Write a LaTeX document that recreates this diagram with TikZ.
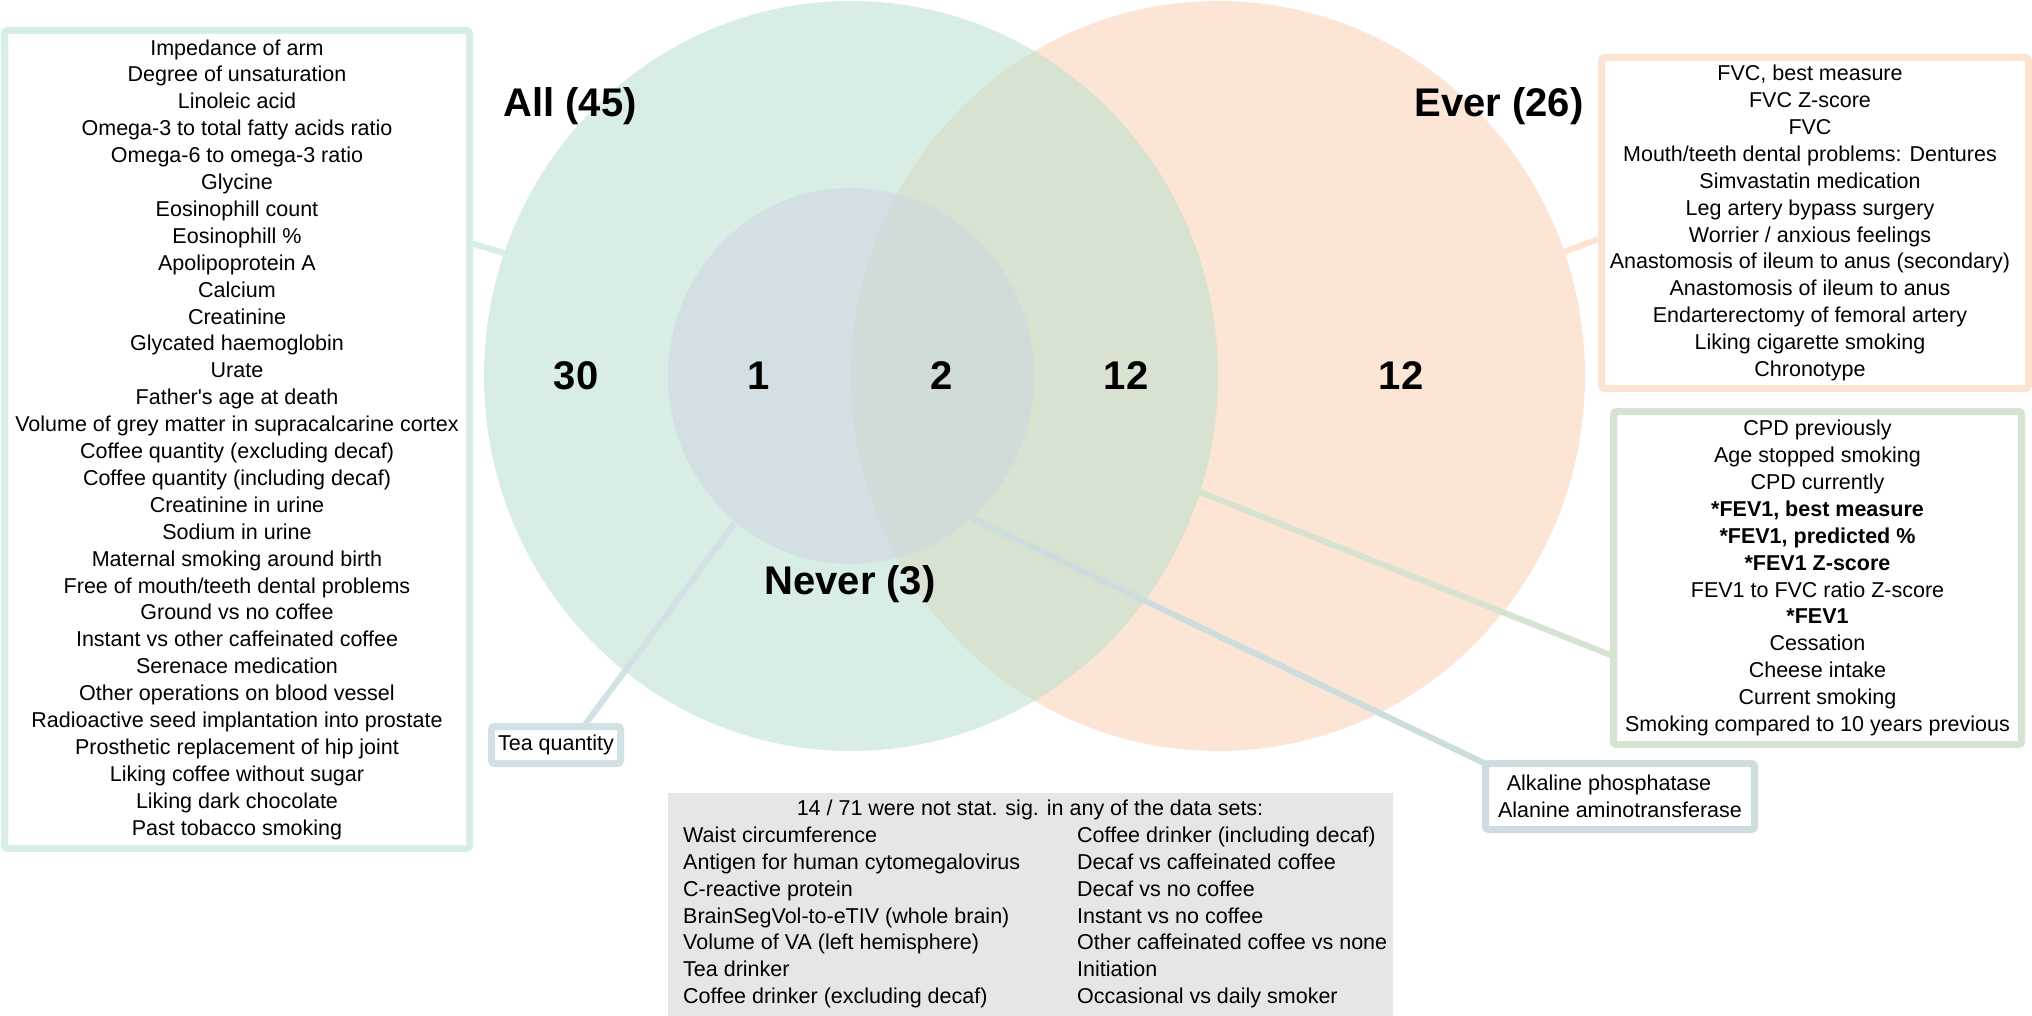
\documentclass[tikz,border=0pt]{standalone}
\usepackage{fontspec}
\setmainfont{Liberation Sans}
\definecolor{cG}{HTML}{D8EEE4}
\definecolor{cO}{HTML}{FDE5D5}
\definecolor{cGO}{HTML}{D8E2D0}
\definecolor{cN}{HTML}{D2E0E4}
\definecolor{cNO}{HTML}{CFDCDA}
\definecolor{bL}{HTML}{D6EEE4}
\definecolor{bO}{HTML}{FDE3D1}
\definecolor{bR}{HTML}{D6E3D0}
\definecolor{bA}{HTML}{CDDCDD}
\definecolor{bT}{HTML}{D2E1E6}
\definecolor{cGrey}{HTML}{E6E6E6}
\begin{document}
\begin{tikzpicture}[x=1pt,y=-1pt,
  boxtext/.style={font=\fontsize{21.5}{26.9}\selectfont, align=center},
  listbox/.style={draw, line width=7pt, rounded corners=3pt, fill=white, inner sep=0pt},
  conn/.style={line width=6pt},
  biglabel/.style={font=\fontsize{40}{48}\selectfont\bfseries, inner sep=0pt}]
\useasboundingbox (0,0) rectangle (2032,1016);
\fill[white] (0,0) rectangle (2032,1016);
% Venn regions
\fill[cG] (851,376) ellipse [x radius=367pt, y radius=375pt];
\fill[cO] (1218,376) ellipse [x radius=367pt, y radius=375pt];
\begin{scope}
  \clip (1218,376) ellipse [x radius=367pt, y radius=375pt];
  \fill[cGO] (851,376) ellipse [x radius=367pt, y radius=375pt];
\end{scope}
\fill[cN] (851,376) ellipse [x radius=183pt, y radius=188pt];
\begin{scope}
  \clip (1218,376) ellipse [x radius=367pt, y radius=375pt];
  \fill[cNO] (851,376) ellipse [x radius=183pt, y radius=188pt];
\end{scope}
% connector end points
\coordinate (eL) at (504,253);
\coordinate (bLp) at (470,243);
\coordinate (eO) at (1564,252);
\coordinate (bOp) at (1601,238);
\coordinate (eR) at (1200,492);
\coordinate (bRp) at (1613,656);
\coordinate (eA) at (972,518);
\coordinate (bAp) at (1486,764);
\coordinate (eT) at (735,523);
\coordinate (bTp) at (584,726);
\draw[conn, bL] (eL) -- (bLp);
\draw[conn, bO] (eO) -- (bOp);
\draw[conn, bR] (eR) -- (bRp);
\draw[conn, bA] (eA) -- (bAp);
\draw[conn, bT] (eT) -- (bTp);
% labels
\node[biglabel] (all) at (570,106) {All (45)};
\node[biglabel] (ever) at (1499,106) {Ever (26)};
\node[biglabel] (never) at (850,584) {Never (3)};
\node[biglabel] (n30) at (576,376) {30};
\node[biglabel] (n1) at (759,376) {1};
\node[biglabel] (n2) at (942,376) {2};
\node[biglabel] (n12a) at (1126,376) {12};
\node[biglabel] (n12b) at (1401,376) {12};
% left box
\node[listbox, draw=bL, minimum width=465pt, minimum height=818pt, boxtext] (leftbox) at (237,439.5) {Impedance of arm\\ Degree of unsaturation\\ Linoleic acid\\ Omega-3 to total fatty acids ratio\\ Omega-6 to omega-3 ratio\\ Glycine\\ Eosinophill count\\ Eosinophill \%\\ Apolipoprotein A\\ Calcium\\ Creatinine\\ Glycated haemoglobin\\ Urate\\ Father\textquotesingle s age at death\\ Volume of grey matter in supracalcarine cortex\\ Coffee quantity (excluding decaf)\\ Coffee quantity (including decaf)\\ Creatinine in urine\\ Sodium in urine\\ Maternal smoking around birth\\ Free of mouth/teeth dental problems\\ Ground vs no coffee\\ Instant vs other caffeinated coffee\\ Serenace medication\\ Other operations on blood vessel\\ Radioactive seed implantation into prostate\\ Prosthetic replacement of hip joint\\ Liking coffee without sugar\\ Liking dark chocolate\\ Past tobacco smoking};
% orange box
\node[listbox, draw=bO, minimum width=427pt, minimum height=331pt] (everbox) at (1815,223) {};
\node[boxtext, inner sep=0pt] (evertext) at (1810,223) {FVC, best measure\\ FVC Z-score\\ FVC\\ Mouth/teeth dental problems: Dentures\\ Simvastatin medication\\ Leg artery bypass surgery\\ Worrier / anxious feelings\\ Anastomosis of ileum to anus (secondary)\\ Anastomosis of ileum to anus\\ Endarterectomy of femoral artery\\ Liking cigarette smoking\\ Chronotype};
% green right box
\node[listbox, draw=bR, minimum width=408pt, minimum height=333pt, boxtext] (bothbox) at (1817.5,578) {CPD previously\\ Age stopped smoking\\ CPD currently\\ \textbf{*FEV1, best measure}\\ \textbf{*FEV1, predicted \%}\\ \textbf{*FEV1 Z-score}\\ FEV1 to FVC ratio Z-score\\ \textbf{*FEV1}\\ Cessation\\ Cheese intake\\ Current smoking\\ Smoking compared to 10 years previous};
% alkaline box
\node[listbox, draw=bA, minimum width=269pt, minimum height=66pt, boxtext] (alkbox) at (1620,796.5) {Alkaline phosphatase\hspace*{22pt}\\ Alanine aminotransferase};
% tea box
\node[listbox, draw=bT, minimum width=129pt, minimum height=37pt, boxtext] (teabox) at (556,745) {Tea quantity};
% grey box
\node[fill=cGrey, minimum width=725pt, minimum height=223pt, inner sep=0pt, anchor=north west] (greybox) at (668,793) {};
\node[boxtext] (greytitle) at (1030,810) {14 / 71 were not stat. sig. in any of the data sets:};
\node[font=\fontsize{21.5}{26.9}\selectfont, align=left, inner sep=0pt, anchor=west] (greyleft) at (683,917.5) {Waist circumference\\ Antigen for human cytomegalovirus\\ C-reactive protein\\ BrainSegVol-to-eTIV (whole brain)\\ Volume of VA (left hemisphere)\\ Tea drinker\\ Coffee drinker (excluding decaf)};
\node[font=\fontsize{21.5}{26.9}\selectfont, align=left, inner sep=0pt, anchor=west] (greyright) at (1077,917.5) {Coffee drinker (including decaf)\\ Decaf vs caffeinated coffee\\ Decaf vs no coffee\\ Instant vs no coffee\\ Other caffeinated coffee vs none\\ Initiation\\ Occasional vs daily smoker};
\end{tikzpicture}
\end{document}
